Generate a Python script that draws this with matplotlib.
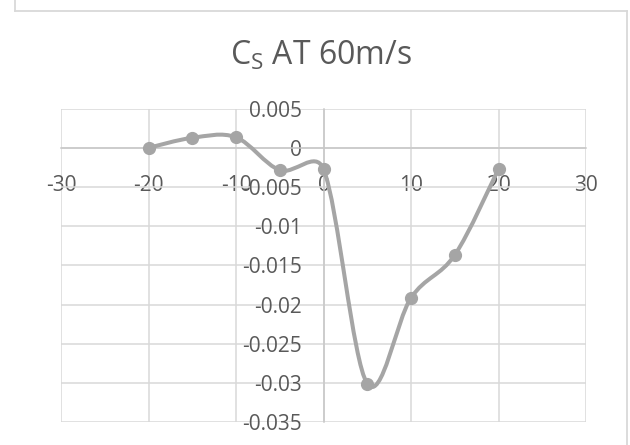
import matplotlib
matplotlib.use("Agg")
import numpy as np
import matplotlib.pyplot as plt
from matplotlib.path import Path
from matplotlib.patches import PathPatch
from matplotlib.lines import Line2D
from matplotlib.ticker import FuncFormatter, MultipleLocator

# ---- data ----
angles = [-20, -15, -10, -5, 0, 5, 10, 15, 20]
cs_values = [0.0, 0.00128, 0.00135, -0.00285, -0.0027, -0.0301, -0.01915, -0.01368, -0.0027]
title_main = "C"
title_sub = "S"
title_rest = " AT 60m/s"
x_limits = (-30, 30)
y_limits = (-0.035, 0.005)

FONT = "Open Sans"
plt.rcParams["font.family"] = [FONT, "DejaVu Sans"]
plt.rcParams["axes.unicode_minus"] = False
plt.rcParams["mathtext.fontset"] = "custom"
plt.rcParams["mathtext.rm"] = FONT
plt.rcParams["mathtext.it"] = FONT

TXT = "#595959"
GRID = "#d9d9d9"
LINE = "#a5a5a5"

fig = plt.figure(figsize=(6.3, 4.45), dpi=100)
W, H = 630, 445

# outer chart border
for xs, ys in [((15, 15), (-5, 11)), ((15, 627), (11, 11)), ((627, 627), (11, 450))]:
    fig.add_artist(Line2D([x / W for x in xs], [1 - y / H for y in ys],
                          transform=fig.transFigure, color=GRID, lw=1.3))

left, right, top, bottom = 61, 586, 108.7, 422
ax = fig.add_axes([left / W, 1 - bottom / H, (right - left) / W, (bottom - top) / H])
ax.set_xlim(*x_limits)
ax.set_ylim(*y_limits)
ax.xaxis.set_major_locator(MultipleLocator(10))
ax.yaxis.set_major_locator(MultipleLocator(0.005))
ax.grid(True, color=GRID, lw=1.1, zorder=0)
ax.set_axisbelow(True)

for s in ["top", "right"]:
    ax.spines[s].set_visible(False)
for s in ["left", "bottom"]:
    ax.spines[s].set_position(("data", 0))
    ax.spines[s].set_color("#c8c8c8")
    ax.spines[s].set_linewidth(1.1)


def fmt(v, pos):
    r = round(v, 4)
    if abs(r) < 1e-12:
        return "0"
    return f"{r:g}"


ax.xaxis.set_major_formatter(FuncFormatter(fmt))
ax.yaxis.set_major_formatter(FuncFormatter(fmt))
ax.tick_params(axis="both", length=0, labelsize=15, labelcolor=TXT)
ax.tick_params(axis="x", pad=19.5)
ax.tick_params(axis="y", pad=15.8)

# smooth curve (Excel-like Bezier smoothing, computed in display space)
disp = ax.transData.transform(np.column_stack([angles, cs_values]))
inv = ax.transData.inverted()
n = len(disp)
verts = [tuple(disp[0])]
codes = [Path.MOVETO]
for i in range(n - 1):
    p0 = disp[i - 1] if i > 0 else disp[i]
    p1 = disp[i]
    p2 = disp[i + 1]
    p3 = disp[i + 2] if i + 2 < n else disp[i + 1]
    d12 = np.hypot(*(p2 - p1))
    a = (p2 - p0) / 6.0
    b = (p3 - p1) / 6.0
    la, lb = np.hypot(*a), np.hypot(*b)
    if la > d12 / 2:
        a = a * (d12 / 2) / la
    if lb > d12 / 2:
        b = b * (d12 / 2) / lb
    verts += [tuple(p1 + a), tuple(p2 - b), tuple(p2)]
    codes += [Path.CURVE4] * 3
verts_data = inv.transform(np.array(verts))
ax.add_patch(PathPatch(Path(verts_data, codes), fill=False, edgecolor=LINE, lw=2.9,
                       capstyle="round", joinstyle="round", zorder=3))
ax.plot(angles, cs_values, linestyle="none", marker="o", markersize=8.5,
        color=LINE, zorder=4)

fig.text(321 / W, 1 - 65 / H,
         title_main + r"$_{\mathrm{" + title_sub + r"}}$" + title_rest,
         ha="center", va="baseline", fontsize=23, color=TXT)

fig.savefig("out.png", dpi=100, facecolor="white")
